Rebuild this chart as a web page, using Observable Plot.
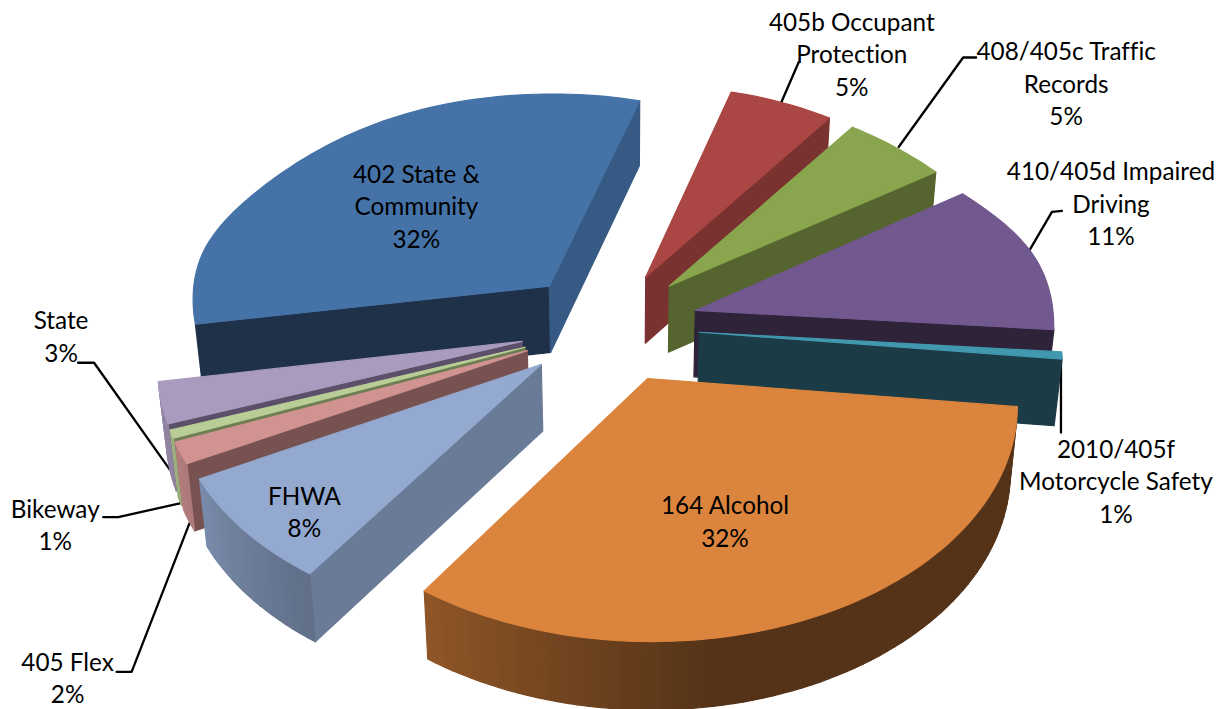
<!DOCTYPE html>
<html><head><meta charset="utf-8">
<script src="https://cdn.jsdelivr.net/npm/d3@7"></script>
<script src="https://cdn.jsdelivr.net/npm/@observablehq/plot@0.6"></script>
<style>html,body{margin:0;padding:0;background:#fff}svg{display:block}svg text{font-variant-ligatures:none}</style>
</head><body><div id="chart"></div>
<script>
// ---- data, clockwise from the 405b slice ----
const names = ["405b Occupant\nProtection","408/405c Traffic\nRecords","410/405d Impaired\nDriving","2010/405f\nMotorcycle Safety","164 Alcohol","FHWA","405 Flex","Bikeway","State","402 State &\nCommunity"];
const percents = [5,5,11,1,32,8,2,1,3,32];
const shares = [5.02,5.06,12.14,0.5,32.67,7.64,1.53,0.56,2.92,31.96];
const topColors = ["#AA4643","#89A54E","#71588F","#4198AF","#DB843D","#93A9CF","#D19392","#B9CD96","#A99BBD","#4573A7"];
const startFaces = [null,null,null,null,null,"#6A7B98","#775250","#6E7E52","#5B4F6A","#1F3049"];
const endFaces = ["#7A3230","#56652F","#2E2339","#1B3C47",null,null,null,null,null,"#375A84"];
const hasArcSide = [false,false,false,false,true,true,true,true,true,false];
const paintOrder = [0,1,9,2,3,8,7,6,5,4];
// label placement relative to each slice's outer-arc midpoint
const labelDx = [70,169.5,80,54,-94,60,-113,-116.5,-100.5,96];
const labelDy = [-49.5,-65.5,-49.5,124.5,-95.5,-20,223.5,89.5,-67.5,56];
// leader: elbow points relative to the label centre; null means no leader
const leaders = [[[-53,9]],[[-90,-25],[-103,-25]],[[-49,8.5],[-59,9.5]],[[-55,-47.5]],null,null,[[49,-4.5],[64,-4.5]],[[48,-6.5],[63,-6.5]],[[17,27.5],[33,27.5]],null];
const leaderDepth = [0,0,0,0,0,0,1,1,1,0];
const leaderEnd = [[-1,1],[2,-1],[-3,1],[-1,0],null,null,[1,3],[0,2],[0,0],null];

// ---- pie geometry (a perspective view of an exploded extruded pie) ----
const W = 1227, H = 709;
const view = {cx:609, cy:326, R:359, explode:90, squash:.62, perspBack:.00015, perspFront:.00028, perspY:.0003, warp:12, start:15, vx:620, lean:.018, depth:64.5, depthGrow:.006};
const rad = d => d*Math.PI/180;
function project(u,v){
  const sx=1/(1-(v>0?view.perspFront:view.perspBack)*v), sy=1/(1-view.perspY*v), b=-v;
  const w=(b>60&&b<470)?view.warp*Math.sin(Math.PI*(b-60)/410)**2:0;
  return [view.cx+u*sx, view.cy+view.squash*v*sy+w];
}
function drop([x,y]){return [x+(view.vx-x)*view.lean, y+view.depth+view.depthGrow*y];}
function shade(c,f){const k=d3.rgb(c);return d3.rgb(k.r*f,k.g*f,k.b*f).formatHex();}
const sideFactor = th => Math.max(.39, Math.min(.85, .39+(th-172)*.0062));

let acc = view.start;
const slices = shares.map((p,i)=>{
  const a0=acc, a1=acc+p*3.6; acc=a1;
  const mid=(a0+a1)/2;
  const ex=view.explode*Math.sin(rad(mid)), ey=-view.explode*Math.cos(rad(mid));
  const at=(th,r=view.R)=>project(ex+r*Math.sin(rad(th)), ey-r*Math.cos(rad(th)));
  const n=Math.max(4,Math.ceil((a1-a0)/1.5));
  const arc=d3.range(n+1).map(k=>a0+(a1-a0)*k/n);
  return {i,a0,a1,mid,at,arc};
});

const rows=[]; let pid=0;
function poly(pts,color){const id=pid++;for(const [x,y] of [...pts,pts[0]])rows.push({id,x,y,color});}
function area4(p){let s=0;for(let i=0;i<p.length;i++){const a=p[i],b=p[(i+1)%p.length];s+=a[0]*b[1]-b[0]*a[1];}return s;}
function face(A,B,color){const q=[A,B,drop(B),drop(A)];if(area4(q)<0&&color)poly(q,color);}
for(const i of paintOrder){
  const s=slices[i], apex=s.at(0,0), pts=s.arc.map(t=>s.at(t));
  face(apex,pts[0],startFaces[i]);
  face(pts[pts.length-1],apex,endFaces[i]);
  if(hasArcSide[i]) for(let k=0;k<pts.length-1;k++) face(pts[k],pts[k+1],shade(topColors[i],sideFactor((s.arc[k]+s.arc[k+1])/2)));
  poly([apex,...pts],topColors[i]);
}

const labels=slices.map(s=>{
  const [x,y]=s.at(s.mid);
  return {x,y,dx:labelDx[s.i],dy:labelDy[s.i],text:names[s.i]+"\n"+percents[s.i]+"%"};
});
const leaderRows=[];
slices.forEach(s=>{
  const L=leaders[s.i]; if(!L) return;
  const [x,y]=s.at(s.mid), lx=x+labelDx[s.i], ly=y+labelDy[s.i];
  const end=leaderDepth[s.i]?drop([x,y]):[x,y];
  L.forEach(([a,b])=>leaderRows.push({id:s.i,x:lx+a,y:ly+b}));
  leaderRows.push({id:s.i,x:end[0]+leaderEnd[s.i][0],y:end[1]+leaderEnd[s.i][1]});
});

const chart=Plot.plot({
  width:W,height:H,margin:0,
  x:{domain:[0,W],range:[0,W],axis:null},
  y:{domain:[0,H],range:[0,H],axis:null},
  color:{type:"identity"},
  marks:[
    Plot.line(leaderRows,{x:"x",y:"y",z:"id",stroke:"#000",strokeWidth:2.3}),
    Plot.line(rows,{x:"x",y:"y",z:"id",fill:"color",stroke:"color",strokeWidth:1.2,curve:"linear"}),
    ...labels.map(l=>Plot.text([l],{x:"x",y:"y",text:"text",dx:l.dx,dy:l.dy,fontFamily:"Lato",fontSize:24.3,lineHeight:1.34,fill:"#000",textAnchor:"middle"}))
  ]
});
document.getElementById("chart").append(chart);
</script></body></html>
